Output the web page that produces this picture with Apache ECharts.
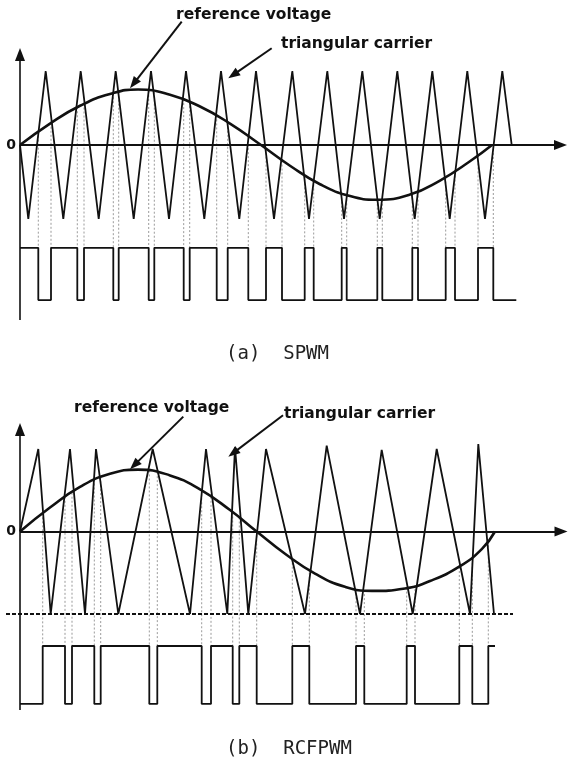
<!DOCTYPE html>
<html><head><meta charset="utf-8">
<script src="https://cdn.jsdelivr.net/npm/echarts@6/dist/echarts.min.js"></script>
<style>html,body{margin:0;padding:0;background:#fff}#c{width:568px;height:758px}</style>
</head><body><div id="c"></div>
<script>
// ===== (a) SPWM : regular triangular carrier =====
const carrierA_t = [0, 8.3, 25.7, 43.3, 60.7, 78.7, 95.7, 113.7, 131, 149, 166, 184.3, 201, 219.3, 236, 254, 272.3, 289, 307.3, 324, 342.3, 359.7, 377.3, 394.7, 412.3, 429.7, 447.3, 465, 482.3, 491.7];
const carrierA_v = [0, -1, 1, -1, 1, -1, 1, -1, 1, -1, 1, -1, 1, -1, 1, -1, 1, -1, 1, -1, 1, -1, 1, -1, 1, -1, 1, -1, 1, 0];
const refA_t = [0, 30, 60, 90, 118, 150, 180, 210, 241, 270, 300, 330, 357, 390, 420, 450, 472];
const refA_v = [0, 0.29, 0.53, 0.69, 0.75, 0.68, 0.52, 0.29, 0, -0.28, -0.53, -0.69, -0.74, -0.67, -0.48, -0.22, 0];
const pwmA_edges = [18.3, 31, 57.3, 64, 93.3, 98.7, 128.7, 134.3, 163.7, 169.7, 196.7, 207.7, 228.3, 246, 262, 284.7, 293.7, 321.7, 326.7, 357.3, 362.3, 392.3, 398, 425.7, 435, 458, 473.3];
const pwmA_levelAtEdge = [0.18, 0.30, 0.51, 0.56, 0.70, 0.72, 0.73, 0.72, 0.62, 0.58, 0.40, 0.30, 0.12, -0.05, -0.21, -0.41, -0.48, -0.66, -0.68, -0.74, -0.74, -0.66, -0.63, -0.44, -0.36, -0.14, 0.0];
const pwmA_startHigh = true, pwmA_end = 496.3, pwmA_high = -1.39, pwmA_low = -2.095;

// ===== (b) RCFPWM : random carrier frequency =====
const carrierB_t = [0, 18.3, 30.7, 50, 65, 76, 98.3, 132.7, 170, 186, 207.3, 215, 228.3, 246, 285, 306.7, 340, 361.7, 392.7, 416.7, 450, 458.3, 474];
const carrierB_v = [0, 1, -1, 1, -1, 1, -1, 1, -1, 1, -1, 1.02, -1, 1, -1, 1.04, -1, 0.99, -1, 1, -1, 1.06, -1];
const refB_t = [0, 30, 60, 90, 118, 150, 180, 210, 236.7, 265, 295, 325, 352, 385, 410, 440, 462, 475];
const refB_v = [0, 0.29, 0.54, 0.70, 0.75, 0.68, 0.51, 0.26, 0, -0.27, -0.51, -0.67, -0.72, -0.69, -0.60, -0.42, -0.21, 0];
const pwmB_edges = [22.7, 45, 52, 74.3, 80.7, 129.3, 137.3, 181.7, 191, 212.7, 219.3, 236.7, 272.3, 289.3, 336, 344.3, 386.7, 395, 439.3, 452.3, 468.3];
const pwmB_levelAtEdge = [0.22, 0.42, 0.47, 0.63, 0.66, 0.74, 0.72, 0.50, 0.42, 0.23, 0.17, 0, -0.33, -0.45, -0.70, -0.71, -0.68, -0.65, -0.43, -0.38, -0.12];
const pwmB_startHigh = false, pwmB_end = 475, pwmB_high = -1.388, pwmB_low = -2.09;
const carrierB_floor = -1;

// annotation arrows: [fromX, fromY, toX, toY] in axis units
const arrowsA = [[161.7, 1.666, 113.7, 0.830], [251.7, 1.307, 213.2, 0.947]];
const arrowsB = [[163.3, 1.392, 114.3, 0.805], [263, 1.41, 213.1, 0.950]];
const labels = ['reference voltage', 'triangular carrier'];
const captions = ['(a)  SPWM', '(b)  RCFPWM'];

function pairs(t, v) { return t.map((x, i) => [x, v[i]]); }
function pwm(edges, startHigh, end, hi, lo) {
  const pts = []; let h = startHigh;
  pts.push([0, h ? hi : lo]);
  edges.forEach(e => { pts.push([e, h ? hi : lo]); h = !h; pts.push([e, h ? hi : lo]); });
  pts.push([end, h ? hi : lo]);
  return pts;
}
function guides(edges, levels, hi) {
  const pts = [];
  edges.forEach((e, i) => { pts.push([e, levels[i]]); pts.push([e, hi]); pts.push(['-', '-']); });
  return pts;
}
const INK = '#111';
function arrowLine(a, size, w) {
  return [{ coord: [a[0], a[1]], symbol: 'none', lineStyle: { width: w || 2, color: INK, type: 'solid' } },
          { coord: [a[2], a[3]], symbol: 'triangle', symbolSize: size || [9, 12] }];
}
function axisMarks(yBottom, yTop, xEnd, arrows, extra) {
  const data = [
    [{ coord: [0, yBottom], symbol: 'none', lineStyle: { width: 1.6, color: INK, type: 'solid' } },
     { coord: [0, yTop], symbol: 'triangle', symbolSize: [10, 13] }],
    [{ coord: [0, 0], symbol: 'none', lineStyle: { width: 1.8, color: INK, type: 'solid' },
       label: { show: true, position: 'start', formatter: '0', distance: 4, color: INK, fontSize: 14, fontWeight: 'bold', fontFamily: 'DejaVu Sans' } },
     { coord: [xEnd, 0], symbol: 'triangle', symbolSize: [10, 13] }]
  ];
  arrows.forEach(a => data.push(arrowLine(a)));
  if (extra) extra.forEach(e => data.push(e));
  return { silent: true, animation: false, symbol: ['none', 'none'], label: { show: false },
           lineStyle: { color: INK, type: 'solid', width: 2 }, itemStyle: { color: INK }, data: data };
}
function seriesFor(idx, carrier, ref, pw, gd, marks) {
  const base = { type: 'line', xAxisIndex: idx, yAxisIndex: idx, showSymbol: false, symbol: 'none', silent: true, animation: false, clip: false };
  return [
    Object.assign({}, base, { name: 'guides' + idx, data: gd, z: 1, lineStyle: { color: '#9a9a9a', width: 1, type: [2, 2] } }),
    Object.assign({}, base, { name: 'carrier' + idx, data: carrier, z: 3, lineStyle: { color: INK, width: 1.8 }, markLine: marks }),
    Object.assign({}, base, { name: 'reference' + idx, data: ref, z: 4, smooth: 0.5, lineStyle: { color: INK, width: 2.6 } }),
    Object.assign({}, base, { name: 'pwm' + idx, data: pw, z: 3, lineStyle: { color: INK, width: 1.8 } })
  ];
}

const dashedB = [{ coord: [-14, carrierB_floor], symbol: 'none', lineStyle: { width: 2, color: INK, type: [4, 2] } },
                 { coord: [493, carrierB_floor], symbol: 'none' }];

const titleFont = { fontFamily: 'DejaVu Sans', fontWeight: 'bold', fontSize: 15.5, color: INK };
const capFont = { fontFamily: 'DejaVu Sans Mono', fontWeight: 'normal', fontSize: 19, color: '#222' };

const option = {
  backgroundColor: '#fff',
  animation: false,
  title: [
    { text: labels[0], left: 176, top: 7, padding: 0, textStyle: titleFont },
    { text: labels[1], left: 281, top: 35.5, padding: 0, textStyle: titleFont },
    { text: labels[0], left: 74, top: 400, padding: 0, textStyle: titleFont },
    { text: labels[1], left: 284, top: 406, padding: 0, textStyle: titleFont },
    { text: captions[0], left: 226, top: 345, padding: 0, textStyle: capFont },
    { text: captions[1], left: 226, top: 740, padding: 0, textStyle: capFont }
  ],
  grid: [
    { left: 5, right: 0, top: 0, height: 330 },
    { left: 5, right: 0, top: 380, height: 340 }
  ],
  xAxis: [
    { gridIndex: 0, type: 'value', min: -15, max: 548, show: false },
    { gridIndex: 1, type: 'value', min: -15, max: 548, show: false }
  ],
  yAxis: [
    { gridIndex: 0, type: 'value', min: 145 / 74 - 330 / 74, max: 145 / 74, show: false },
    { gridIndex: 1, type: 'value', min: 151.5 / 82.5 - 340 / 82.5, max: 151.5 / 82.5, show: false }
  ],
  series: [].concat(
    seriesFor(0, pairs(carrierA_t, carrierA_v), pairs(refA_t, refA_v),
      pwm(pwmA_edges, pwmA_startHigh, pwmA_end, pwmA_high, pwmA_low),
      guides(pwmA_edges, pwmA_levelAtEdge, pwmA_high),
      axisMarks(-2.365, 1.223, 540.5, arrowsA)),
    seriesFor(1, pairs(carrierB_t, carrierB_v), pairs(refB_t, refB_v),
      pwm(pwmB_edges, pwmB_startHigh, pwmB_end, pwmB_high, pwmB_low),
      guides(pwmB_edges, pwmB_levelAtEdge, pwmB_high),
      axisMarks(-2.164, 1.236, 541, arrowsB, [dashedB]))
  )
};
const chart = echarts.init(document.getElementById('c'), null, { renderer: 'canvas' });
chart.setOption(option);
</script>
</body></html>
